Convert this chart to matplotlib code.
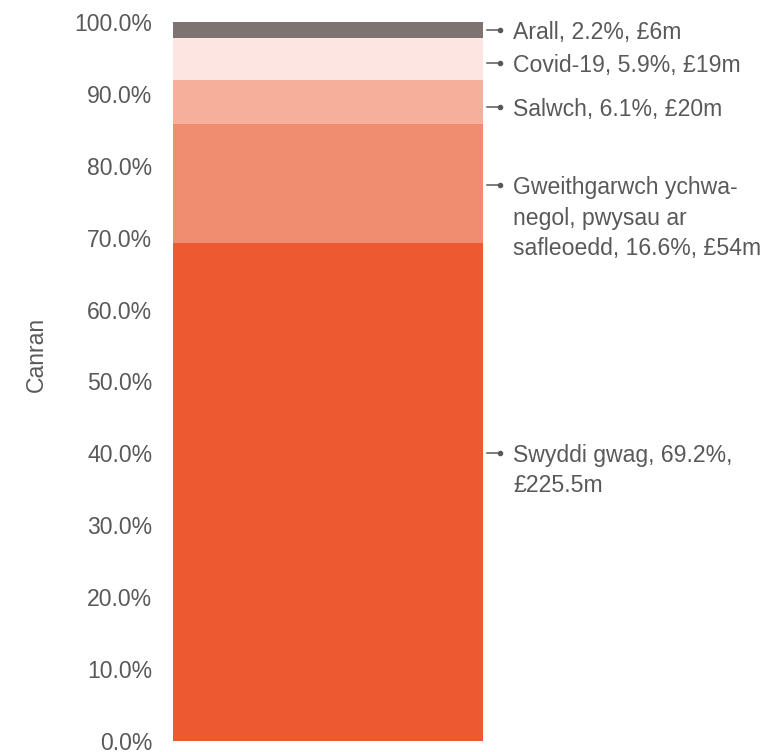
import matplotlib.pyplot as plt
from matplotlib.ticker import PercentFormatter
import matplotlib.transforms as mtransforms

plt.rcParams['font.family'] = ['Liberation Sans', 'DejaVu Sans']

categories = ['Swyddi gwag', 'Gweithgarwch ychwanegol, pwysau ar safleoedd', 'Salwch', 'Covid-19', 'Arall']
shares = [69.2, 16.6, 6.1, 5.9, 2.2]
labels = [
    'Swyddi gwag, 69.2%,\n£225.5m',
    'Gweithgarwch ychwa-\nnegol, pwysau ar\nsafleoedd, 16.6%, £54m',
    'Salwch, 6.1%, £20m',
    'Covid-19, 5.9%, £19m',
    'Arall, 2.2%, £6m',
]
colors = ['#EB5A31', '#F08C70', '#F6AF9A', '#FDE6E1', '#7D7370']
# where each label's first line sits (in % units)
label_y = [40.1, 77.3, 88.2, 94.3, 98.9]

text_color = '#595959'
fs = 16.6

fig = plt.figure(figsize=(7.82, 7.52), dpi=100)
ax = fig.add_axes([173 / 782, 11 / 752, 310 / 782, 719 / 752])

bottom = 0
for val, col in zip(shares, colors):
    ax.bar(0.5, val, width=1.0, bottom=bottom, color=col, linewidth=0)
    bottom += val

ax.set_xlim(0, 1)
ax.set_ylim(0, 100)
ax.set_yticks(range(0, 101, 10))
ax.yaxis.set_major_formatter(PercentFormatter(decimals=1))
ax.tick_params(axis='y', length=0, pad=15, labelsize=fs, labelcolor=text_color)
ax.set_xticks([])
for sp in ax.spines.values():
    sp.set_visible(False)

ax.set_ylabel('Canran', fontsize=fs, color=text_color)
ax.yaxis.set_label_coords(-125 / 310, 0.5375)

trans = mtransforms.blended_transform_factory(ax.transAxes, ax.transData)
for lab, y in zip(labels, label_y):
    ax.plot([1.013, 1.055], [y, y], color=text_color, lw=1.1, transform=trans, clip_on=False)
    ax.plot([1.055], [y], marker='o', ms=3, color=text_color, transform=trans, clip_on=False)
    ax.annotate(lab, xy=(1.097, y), xycoords=trans, xytext=(0, 6.4), textcoords='offset points',
                ha='left', va='top', fontsize=fs, color=text_color, linespacing=1.42,
                annotation_clip=False)

fig.savefig('out.png', dpi=100)
